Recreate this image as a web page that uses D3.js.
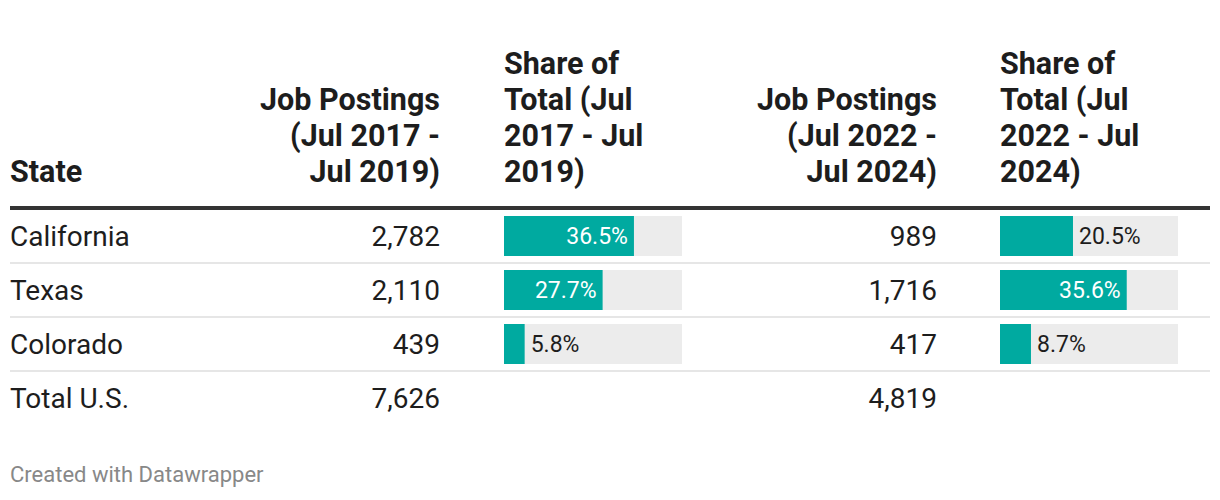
<!DOCTYPE html>
<html>
<head>
<meta charset="utf-8">
<script src="https://cdn.jsdelivr.net/npm/d3@7"></script>
<style>
  html, body { margin: 0; padding: 0; background: #fff; }
  svg { display: block; font-family: Roboto, "Noto Sans", sans-serif; }
</style>
</head>
<body>
<svg id="chart" width="1220" height="500"></svg>
<script>
// ---- data ----
const states = ["California", "Texas", "Colorado", "Total U.S."];
const postings2017 = [2782, 2110, 439, 7626];
const share2017 = [36.5, 27.7, 5.8, null];
const postings2022 = [989, 1716, 417, 4819];
const share2022 = [20.5, 35.6, 8.7, null];
const headerState = ["State"];
const headerPost2017 = ["Job Postings", "(Jul 2017 -", "Jul 2019)"];
const headerShare2017 = ["Share of", "Total (Jul", "2017 - Jul", "2019)"];
const headerPost2022 = ["Job Postings", "(Jul 2022 -", "Jul 2024)"];
const headerShare2022 = ["Share of", "Total (Jul", "2022 - Jul", "2024)"];
const footer = "Created with Datawrapper";

// ---- layout ----
const svg = d3.select("#chart");
const tableLeft = 10, tableRight = 1210;
const headerBaseline = 182, headerLineH = 36;
const ruleTop = 206, ruleH = 4;
const rowTop0 = 210, rowH = 54;
const barW = 178;
const teal = "#00aaa0", track = "#ececec", ink = "#1d1d1d";

const cols = [
  {type: "text", x: tableLeft, anchor: "start", header: headerState},
  {type: "num", x: 440, anchor: "end", header: headerPost2017, values: postings2017},
  {type: "bar", x: 504, anchor: "start", header: headerShare2017, values: share2017},
  {type: "num", x: 937, anchor: "end", header: headerPost2022, values: postings2022},
  {type: "bar", x: 1000, anchor: "start", header: headerShare2022, values: share2022}
];

const xBar = d3.scaleLinear().domain([0, 50]).range([0, barW]);
const yRow = d3.scaleBand().domain(d3.range(states.length)).range([rowTop0, rowTop0 + rowH * states.length]).padding(0);
const fmt = d3.format(",");

// headers
cols.forEach(c => {
  const n = c.header.length;
  svg.append("text")
    .attr("x", c.x)
    .attr("text-anchor", c.anchor)
    .attr("font-size", 30.5)
    .attr("font-weight", 700)
    .attr("fill", ink)
    .selectAll("tspan").data(c.header).join("tspan")
    .attr("x", c.x)
    .attr("y", (d, i) => headerBaseline - (n - 1 - i) * headerLineH)
    .text(d => d);
});

// thick header rule
svg.append("rect").attr("x", tableLeft).attr("y", ruleTop).attr("width", tableRight - tableLeft).attr("height", ruleH).attr("fill", "#333");

// row separators
svg.selectAll("rect.sep").data(d3.range(states.length - 1)).join("rect")
  .attr("class", "sep")
  .attr("x", tableLeft).attr("width", tableRight - tableLeft)
  .attr("y", i => yRow(i) + rowH - 2).attr("height", 2)
  .attr("fill", "#e6e6e6");

// state names
svg.selectAll("text.state").data(states).join("text")
  .attr("class", "state")
  .attr("x", tableLeft)
  .attr("y", (d, i) => yRow(i) + 36)
  .attr("font-size", 28)
  .attr("fill", ink)
  .text(d => d);

cols.filter(c => c.type === "num").forEach(c => {
  svg.selectAll(null).data(c.values).join("text")
    .attr("x", c.x)
    .attr("y", (d, i) => yRow(i) + 36)
    .attr("text-anchor", "end")
    .attr("font-size", 28)
    .attr("fill", ink)
    .text(d => fmt(d));
});

cols.filter(c => c.type === "bar").forEach(c => {
  const g = svg.append("g");
  const rows = c.values.map((v, i) => ({v, i})).filter(d => d.v != null);
  g.selectAll("rect.track").data(rows).join("rect")
    .attr("x", c.x).attr("y", d => yRow(d.i) + 6)
    .attr("width", xBar(50)).attr("height", 40)
    .attr("fill", track);
  g.selectAll("rect.bar").data(rows).join("rect")
    .attr("x", c.x).attr("y", d => yRow(d.i) + 6)
    .attr("width", d => xBar(d.v)).attr("height", 40)
    .attr("fill", teal);
  g.selectAll("text").data(rows).join("text")
    .attr("y", d => yRow(d.i) + 34)
    .attr("font-size", 23)
    .text(d => d.v.toFixed(1) + "%")
    .each(function(d) {
      const w = this.getComputedTextLength();
      const bw = xBar(d.v);
      const sel = d3.select(this);
      if (bw > w + 20) {
        sel.attr("x", c.x + bw - 6).attr("text-anchor", "end").attr("fill", "#fff");
      } else {
        sel.attr("x", c.x + bw + 6).attr("text-anchor", "start").attr("fill", ink);
      }
    });
});

// footer
svg.append("text").attr("x", tableLeft).attr("y", 482)
  .attr("font-size", 22).attr("fill", "#888").text(footer);
</script>
</body>
</html>
